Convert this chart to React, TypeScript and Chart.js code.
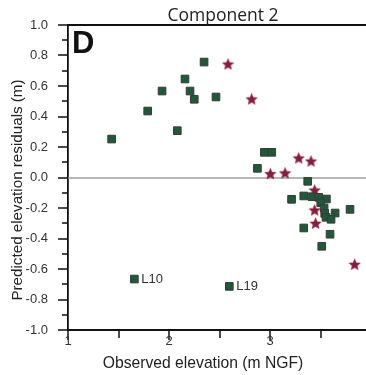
import React, { useEffect, useRef } from "react";
import { Chart, registerables } from "chart.js";
Chart.register(...registerables);

const squareX = [1.432, 1.789, 1.931, 2.082, 2.158, 2.208, 2.25, 2.347, 2.465, 2.944, 3.017, 2.875, 3.373, 3.213, 3.334, 3.416, 3.482, 3.558, 3.502, 3.535, 3.541, 3.644, 3.554, 3.604, 3.792, 3.334, 3.594, 3.512, 1.657, 2.597];
const squareY = [0.252, 0.436, 0.567, 0.307, 0.646, 0.567, 0.513, 0.757, 0.528, 0.165, 0.165, 0.06, -0.025, -0.143, -0.121, -0.126, -0.13, -0.141, -0.165, -0.2, -0.235, -0.233, -0.261, -0.274, -0.209, -0.331, -0.372, -0.451, -0.666, -0.714];
const starX = [2.584, 2.818, 3.003, 3.149, 3.284, 3.406, 3.442, 3.442, 3.451, 3.838];
const starY = [0.744, 0.515, 0.025, 0.03, 0.128, 0.108, -0.082, -0.213, -0.3, -0.569];
const labelX = [1.657, 2.597];
const labelY = [-0.666, -0.714];
const labelText = ["L10", "L19"];
const xTickLabels = [1, 2, 3, 4];
const xMinorTicks = [1.5, 2.5, 3.5];
const xMin = 1;
const xMax = 3.95;
const yTickStep = 0.1;

const TICK_FONT = "'Liberation Sans', Arial, sans-serif";

function makeStar(size: number, color: string) {
  const c = document.createElement("canvas");
  c.width = size;
  c.height = size;
  const ctx = c.getContext("2d")!;
  const cx = size / 2;
  const cy = size / 2 + 0.6;
  const R = size / 2;
  const r = R * 0.45;
  ctx.beginPath();
  for (let i = 0; i < 10; i++) {
    const a = -Math.PI / 2 + (i * Math.PI) / 5;
    const rad = i % 2 === 0 ? R : r;
    const px = cx + rad * Math.cos(a);
    const py = cy + rad * Math.sin(a);
    if (i === 0) ctx.moveTo(px, py);
    else ctx.lineTo(px, py);
  }
  ctx.closePath();
  ctx.fillStyle = color;
  ctx.fill();
  return c;
}

const decorations = {
  id: "decorations",
  beforeDatasetsDraw(chart: any) {
    const { ctx, chartArea, scales } = chart;
    const y0 = scales.y.getPixelForValue(0);
    ctx.save();
    ctx.fillStyle = "#a0a0a0";
    ctx.fillRect(chartArea.left, Math.round(y0) - 0.75, chart.width - chartArea.left, 1.5);
    ctx.restore();
  },
  afterDraw(chart: any) {
    const { ctx, scales, chartArea } = chart;
    ctx.save();
    ctx.fillStyle = "#111";
    ctx.fillRect(chartArea.left - 1, chartArea.top - 1, chart.width - chartArea.left + 1, 2);
    ctx.fillRect(chartArea.left - 1, chartArea.bottom - 0.9, chart.width - chartArea.left + 1, 1.8);
    for (let n = -10; n <= 10; n++) {
      const py = Math.round(scales.y.getPixelForValue(n / 10));
      const len = n % 2 === 0 ? 10 : 6;
      ctx.fillRect(chartArea.left - len, py - 0.75, len, 1.5);
    }
    for (const v of xTickLabels) {
      const px = Math.round(scales.x.getPixelForValue(v));
      ctx.fillRect(px - 0.75, chartArea.bottom, 1.5, 10);
    }
    for (const v of xMinorTicks) {
      const px = Math.round(scales.x.getPixelForValue(v));
      ctx.fillRect(px - 0.75, chartArea.bottom, 1.5, 8);
    }

    ctx.fillStyle = "#222";
    ctx.textAlign = "center";
    ctx.textBaseline = "middle";
    ctx.font = `17.5px 'Open Sans', ${TICK_FONT}`;
    ctx.fillText("Component 2", 223, 16);
    ctx.font = `15.7px ${TICK_FONT}`;
    ctx.fillText("Observed elevation (m NGF)", 203, 364);
    ctx.save();
    ctx.translate(18, 190);
    ctx.rotate(-Math.PI / 2);
    ctx.font = `15.2px ${TICK_FONT}`;
    ctx.fillText("Predicted elevation residuals (m)", 0, 0);
    ctx.restore();
    ctx.font = `13px ${TICK_FONT}`;
    ctx.fillStyle = "#333";
    for (const v of xTickLabels) {
      ctx.fillText(String(v), scales.x.getPixelForValue(v), 341);
    }
    ctx.font = `bold 31px ${TICK_FONT}`;
    ctx.textAlign = "left";
    ctx.textBaseline = "alphabetic";
    ctx.fillStyle = "#111";
    ctx.fillText("D", 72, 53);
    ctx.font = `13px ${TICK_FONT}`;
    ctx.fillStyle = "#333";
    ctx.textBaseline = "middle";
    for (let i = 0; i < labelText.length; i++) {
      const px = scales.x.getPixelForValue(labelX[i]);
      const py = scales.y.getPixelForValue(labelY[i]);
      ctx.fillText(labelText[i], px + 7, py);
    }
    ctx.restore();
  },
};

export default function App() {
  const ref = useRef<HTMLCanvasElement | null>(null);
  useEffect(() => {
    if (!ref.current) return;
    const star = makeStar(13, "#8c1a3c");
    const chart = new Chart(ref.current, {
      type: "scatter",
      data: {
        datasets: [
          {
            data: squareX.map((x, i) => ({ x, y: squareY[i] })),
            pointStyle: "rect",
            pointRadius: 5.4,
            backgroundColor: "#1d5a38",
            borderColor: "#3a3a3a",
            borderWidth: 1,
          },
          {
            data: starX.map((x, i) => ({ x, y: starY[i] })),
            pointStyle: star as any,
            pointRadius: 6,
            backgroundColor: "#8c1a3c",
          },
        ],
      },
      options: {
        animation: false,
        responsive: false,
        events: [],
        layout: { autoPadding: false, padding: { top: 25, right: 0, left: 0, bottom: 0 } },
        plugins: { legend: { display: false }, title: { display: false }, tooltip: { enabled: false } },
        scales: {
          x: {
            type: "linear",
            bounds: "data",
            min: xMin,
            max: xMax,
            afterFit: (s: any) => {
              s.height = 45;
              s.paddingLeft = 0;
              s.paddingRight = 0;
            },
            border: { display: true, color: "#111", width: 1.8 },
            grid: { display: false },
            ticks: {
              autoSkip: false,
              maxRotation: 0,
              padding: 0,
              font: { family: TICK_FONT, size: 1 },
              callback: () => "",
            },
          },
          y: {
            type: "linear",
            min: -1,
            max: 1,
            afterFit: (s: any) => {
              s.width = 68;
            },
            border: { display: true, color: "#111", width: 1.8 },
            grid: { display: false },
            ticks: {
              stepSize: yTickStep,
              autoSkip: false,
              padding: 12,
              color: "#333",
              font: { family: TICK_FONT, size: 13 },
              callback: (v: any) => {
                const n = Math.round(v * 10);
                return n % 2 === 0 ? (n / 10).toFixed(1) : "";
              },
            },
          },
        },
      },
      plugins: [decorations],
    });
    return () => chart.destroy();
  }, []);
  return (
    <div style={{ position: "fixed", left: 0, top: 0, width: 366, height: 375, overflow: "hidden", background: "#fff" }}>
      <canvas ref={ref} width={366} height={375} style={{ display: "block", width: 366, height: 375 }} />
    </div>
  );
}
